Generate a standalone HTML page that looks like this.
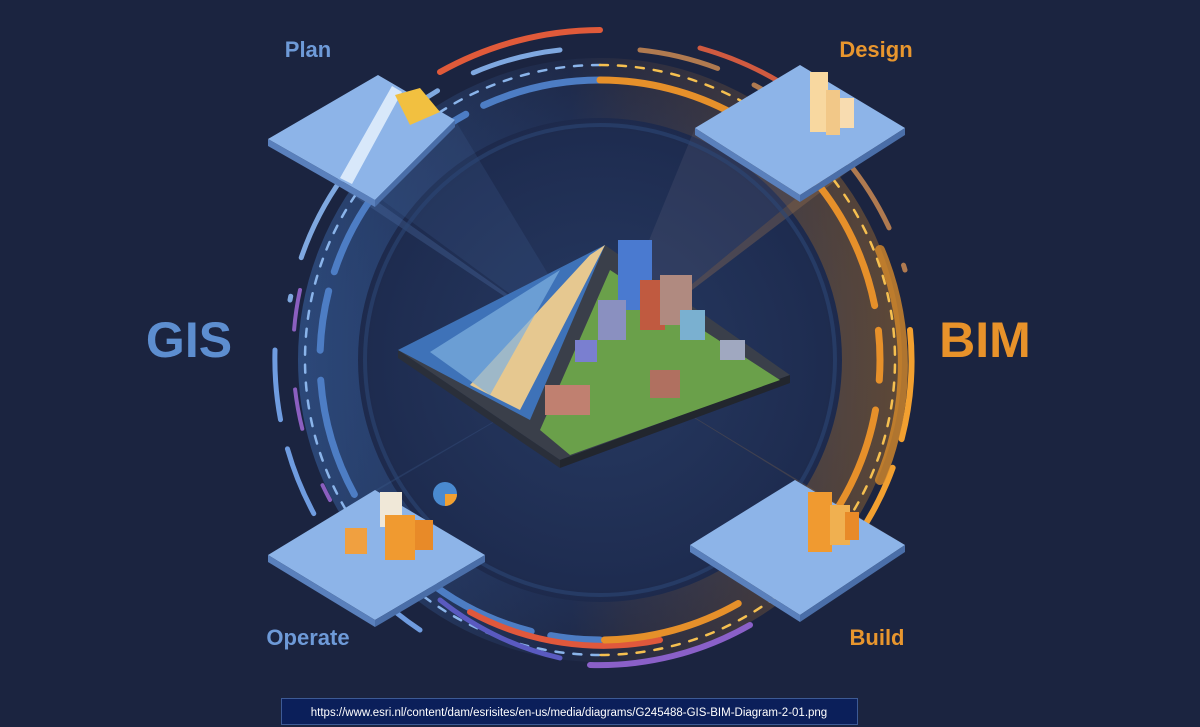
<!DOCTYPE html>
<html><head><meta charset="utf-8"><style>
html,body{margin:0;padding:0;background:#1b2440;}
svg{display:block}
text{font-family:"Liberation Sans",sans-serif}
</style></head><body>
<svg width="1200" height="727" viewBox="0 0 1200 727" xmlns="http://www.w3.org/2000/svg">
<defs>
<radialGradient id="core" cx="600" cy="360" r="300" gradientUnits="userSpaceOnUse">
<stop offset="0" stop-color="#273a62"/><stop offset="0.75" stop-color="#1e2c50"/><stop offset="1" stop-color="#1b2440"/>
</radialGradient>
<linearGradient id="band" x1="300" y1="0" x2="900" y2="0" gradientUnits="userSpaceOnUse">
<stop offset="0" stop-color="#3a66a8" stop-opacity="0.55"/><stop offset="0.45" stop-color="#2b3f6a" stop-opacity="0.2"/><stop offset="0.55" stop-color="#6a5040" stop-opacity="0.2"/><stop offset="1" stop-color="#8a6030" stop-opacity="0.6"/>
</linearGradient>
</defs>
<rect width="1200" height="727" fill="#1b2440"/>
<circle cx="600" cy="360" r="300" fill="url(#core)"/>
<circle cx="600" cy="360" r="272" fill="none" stroke="url(#band)" stroke-width="60"/>
<!-- beams -->
<polygon points="268,139 375,200 600,360" fill="#4a6aa0" opacity="0.35"/>
<polygon points="300,140 455,120 600,360" fill="#4a6aa0" opacity="0.18"/>
<polygon points="905,128 800,195 600,360" fill="#9a7450" opacity="0.35"/>
<polygon points="695,128 800,195 600,360" fill="#6a6a80" opacity="0.2"/>
<polygon points="268,555 375,490 600,360" fill="#3f5c90" opacity="0.3"/>
<polygon points="905,545 795,480 600,360" fill="#8a6a48" opacity="0.3"/>
<!-- rings -->
<g fill="none" stroke-linecap="round">
<circle cx="600" cy="360" r="235" stroke="#2c4675" stroke-width="4" opacity="0.6"/>
<path d="M600,80 A280,280 0 0 0 320,360 A280,280 0 0 0 600,640" stroke="#4d7dc4" stroke-width="7" stroke-dasharray="120 20 60 30"/>
<path d="M600,65 A295,295 0 0 0 305,360 A295,295 0 0 0 600,655" stroke="#8ab4ea" stroke-width="2.5" stroke-dasharray="8 10"/>
<path d="M560,50 A310,310 0 0 0 290,300" stroke="#7fa8e0" stroke-width="5" stroke-dasharray="90 40"/>
<path d="M275,350 A325,325 0 0 0 420,630" stroke="#6f9ce0" stroke-width="5" stroke-dasharray="70 30"/>
<path d="M300,290 A305,305 0 0 0 330,500" stroke="#8b5fc0" stroke-width="4" stroke-dasharray="40 60"/>
<path d="M600,30 A330,330 0 0 0 440,72" stroke="#e05a3a" stroke-width="6"/>
<path d="M470,612 A280,280 0 0 0 660,640" stroke="#e0583c" stroke-width="6"/>
<path d="M590,665 A305,305 0 0 0 750,625" stroke="#8a60c8" stroke-width="6"/>
<path d="M440,600 A300,300 0 0 0 560,658" stroke="#5a5ac0" stroke-width="5"/>
<path d="M600,80 A280,280 0 0 1 880,360 A280,280 0 0 1 600,640" stroke="#e6902a" stroke-width="7" stroke-dasharray="140 25 50 30"/>
<path d="M600,65 A295,295 0 0 1 895,360 A295,295 0 0 1 600,655" stroke="#f6c050" stroke-width="2.5" stroke-dasharray="8 10"/>
<path d="M640,50 A310,310 0 0 1 905,270" stroke="#b07a50" stroke-width="5" stroke-dasharray="80 40"/>
<path d="M910,330 A312,312 0 0 1 800,600" stroke="#f2a030" stroke-width="6" stroke-dasharray="110 30"/>
<path d="M880,250 A300,300 0 0 1 880,480" stroke="#d68a2a" stroke-width="10" opacity="0.8"/>
<path d="M700,48 A330,330 0 0 1 800,95" stroke="#d05a40" stroke-width="5"/>
</g>
<!-- central map -->
<polygon points="398,350 605,245 790,375 560,460" fill="#3a3f4a"/>
<polygon points="398,350 560,460 560,468 398,358" fill="#2a2f3a"/>
<polygon points="560,460 790,375 790,383 560,468" fill="#22262e"/>
<polygon points="398,350 605,245 530,420" fill="#3e72b8"/>
<polygon points="470,385 590,255 605,245 520,410" fill="#e6c890"/>
<polygon points="430,352 560,270 490,395" fill="#7fb0e0" opacity="0.7"/>
<polygon points="540,430 610,270 780,380 570,455" fill="#6aa04a"/>
<rect x="618" y="240" width="34" height="70" fill="#4a7ad0"/>
<rect x="640" y="280" width="25" height="50" fill="#c05a40"/>
<rect x="660" y="275" width="32" height="50" fill="#b08a80"/>
<rect x="598" y="300" width="28" height="40" fill="#8a90c0"/>
<rect x="680" y="310" width="25" height="30" fill="#7ab0d0"/>
<rect x="650" y="370" width="30" height="28" fill="#b07060"/>
<rect x="545" y="385" width="45" height="30" fill="#c08070"/>
<rect x="575" y="340" width="22" height="22" fill="#7a7fd0"/>
<rect x="720" y="340" width="25" height="20" fill="#a0a8c0"/>
<!-- tiles -->
<g>
<polygon points="268,139 378,75 455,120 375,200" fill="#8db4e8"/>
<polygon points="268,139 375,200 375,207 268,146" fill="#5a80bc"/>
<polygon points="375,200 455,120 455,127 375,207" fill="#4a6ea8"/>
<polygon points="340,178 392,86 402,92 352,184" fill="#d8e8fa"/>
<polygon points="395,95 420,88 440,112 410,125" fill="#f2c040"/>
<polygon points="695,128 800,65 905,128 800,195" fill="#8db4e8"/>
<polygon points="695,128 800,195 800,202 695,135" fill="#5a80bc"/>
<polygon points="800,195 905,128 905,135 800,202" fill="#4a6ea8"/>
<rect x="810" y="72" width="18" height="60" fill="#f8d8a0"/><rect x="826" y="90" width="14" height="45" fill="#f2c888"/><rect x="840" y="98" width="14" height="30" fill="#f8dcb0"/>
<polygon points="268,555 375,490 485,555 375,620" fill="#8db4e8"/>
<polygon points="268,555 375,620 375,627 268,562" fill="#5a80bc"/>
<polygon points="375,620 485,555 485,562 375,627" fill="#4a6ea8"/>
<rect x="380" y="492" width="22" height="35" fill="#f0e8d8"/><rect x="385" y="515" width="30" height="45" fill="#f09a30"/><rect x="415" y="520" width="18" height="30" fill="#e88a28"/>
<rect x="345" y="528" width="22" height="26" fill="#f0a040"/><circle cx="445" cy="494" r="12" fill="#4a8ad0"/><path d="M445,494 L457,494 A12,12 0 0 1 445,506Z" fill="#f2a030"/>
<polygon points="690,545 795,480 905,545 800,615" fill="#8db4e8"/>
<polygon points="690,545 800,615 800,622 690,552" fill="#5a80bc"/>
<polygon points="800,615 905,545 905,552 800,622" fill="#4a6ea8"/>
<rect x="808" y="492" width="24" height="60" fill="#f09a30"/><rect x="830" y="505" width="20" height="40" fill="#f0b050"/><rect x="845" y="512" width="14" height="28" fill="#e88a28"/>
</g>
<!-- labels -->
<text x="308" y="57" font-size="22" font-weight="bold" fill="#6e9ad8" text-anchor="middle">Plan</text>
<text x="876" y="57" font-size="22" font-weight="bold" fill="#e8962e" text-anchor="middle">Design</text>
<text x="189" y="357" font-size="50" font-weight="bold" fill="#5d8ed0" text-anchor="middle">GIS</text>
<text x="985" y="357" font-size="50" font-weight="bold" fill="#e8922a" text-anchor="middle">BIM</text>
<text x="308" y="645" font-size="22" font-weight="bold" fill="#6e9ad8" text-anchor="middle">Operate</text>
<text x="877" y="645" font-size="22" font-weight="bold" fill="#e8962e" text-anchor="middle">Build</text>
<rect x="281.5" y="698.5" width="576" height="26" fill="#0b1f5a" stroke="#3d5a95"/>
<text x="569" y="716" font-size="11.5" fill="#ffffff" text-anchor="middle">https://www.esri.nl/content/dam/esrisites/en-us/media/diagrams/G245488-GIS-BIM-Diagram-2-01.png</text>
</svg>
</body></html>
